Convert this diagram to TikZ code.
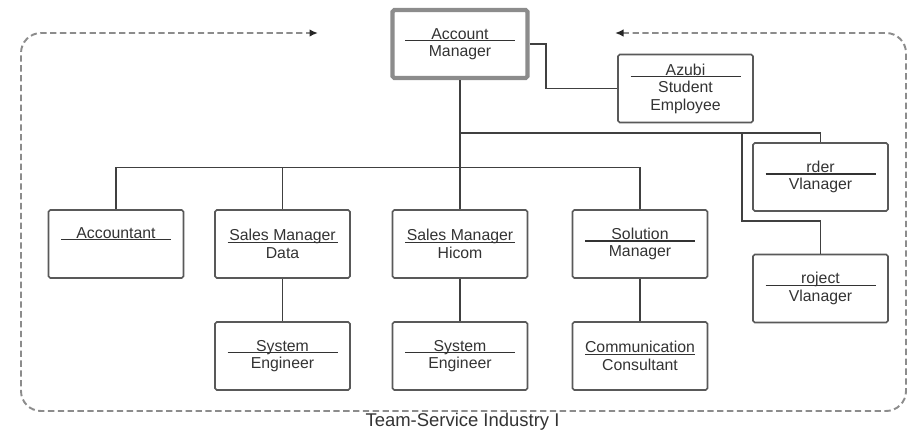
\documentclass[tikz,border=0pt]{standalone}
\usepackage{fontspec}
\setmainfont{Liberation Sans}
\usetikzlibrary{arrows.meta, positioning}

% title line of a role box, ruled underneath
\newcommand{\roletitle}[1]{\makebox[2.2cm]{#1}\llap{\rule[-1.3pt]{2.2cm}{0.7pt}}}

\begin{document}
\begin{tikzpicture}[
    role/.style={
        draw=black!65, line width=0.9pt, rounded corners=1pt, fill=white,
        minimum width=2.7cm, minimum height=1.36cm, align=center,
        text=black!80, font=\fontsize{9}{10}\selectfont
    },
    lead/.style={role, draw=black!45, line width=2.4pt},
    link/.style={draw=black!75, line width=0.8pt},
    frame/.style={
        {Latex[length=1.7mm, width=1.5mm, color=black!85]}-{Latex[length=1.7mm, width=1.5mm, color=black!85]},
        draw=black!45, line width=1.1pt, dash pattern=on 3.6pt off 2pt,
        rounded corners=0.4cm
    }
]
\useasboundingbox (0,0) rectangle (18.16,-8.68);

\node[lead] (am) at (9.2, -0.88) {\roletitle{Account}\\Manager};
\node[role] (azubi) at (13.71, -1.77) {\roletitle{Azubi}\\Student\\Employee};
\node[role] (order) at (16.41, -3.54) {\roletitle{rder}\\Vlanager};
\node[role] (proj) at (16.41, -5.77) {\roletitle{roject}\\Vlanager};

\node[role] (acct) at (2.32, -4.88) {\roletitle{Accountant}\\ \strut};
\node[role] (sdata) at (5.65, -4.88) {\roletitle{Sales Manager}\\Data};
\node[role] (shicom) at (9.2, -4.88) {\roletitle{Sales Manager}\\Hicom};
\node[role] (sol) at (12.8, -4.88) {\roletitle{Solution}\\Manager};

\node[role] (eng1) at (5.65, -7.12) {\roletitle{System}\\Engineer};
\node[role] (eng2) at (9.2, -7.12) {\roletitle{System}\\Engineer};
\node[role] (comm) at (12.8, -7.12) {\roletitle{Communication}\\Consultant};

\coordinate (split) at (9.2, -2.66);
\coordinate (fork) at (14.84, -2.66);

\draw[link] (am.south) -- (shicom.north);
\draw[link] (am.east) -- ++(0.33,0) |- (azubi.west);
\draw[link] (split) -| (order.north);
\draw[link] (fork) -- ++(0,-1.76) -| (proj.north);

\draw[link] (acct.north) -- ++(0,0.84) -| (sol.north);
\draw[link] (sdata.north) -- ++(0,0.84);

\draw[link] (sdata) -- (eng1);
\draw[link] (shicom) -- (eng2);
\draw[link] (sol) -- (comm);

\draw[frame] (12.3,-0.66) -- (18.12,-0.66) -- (18.12,-8.22) -- (0.42,-8.22) -- (0.42,-0.66) -- (6.36,-0.66);
\node[text=black!80, font=\fontsize{10.5}{12}\selectfont] (team) at (9.25, -8.44) {Team-Service Industry I};

\end{tikzpicture}
\end{document}
